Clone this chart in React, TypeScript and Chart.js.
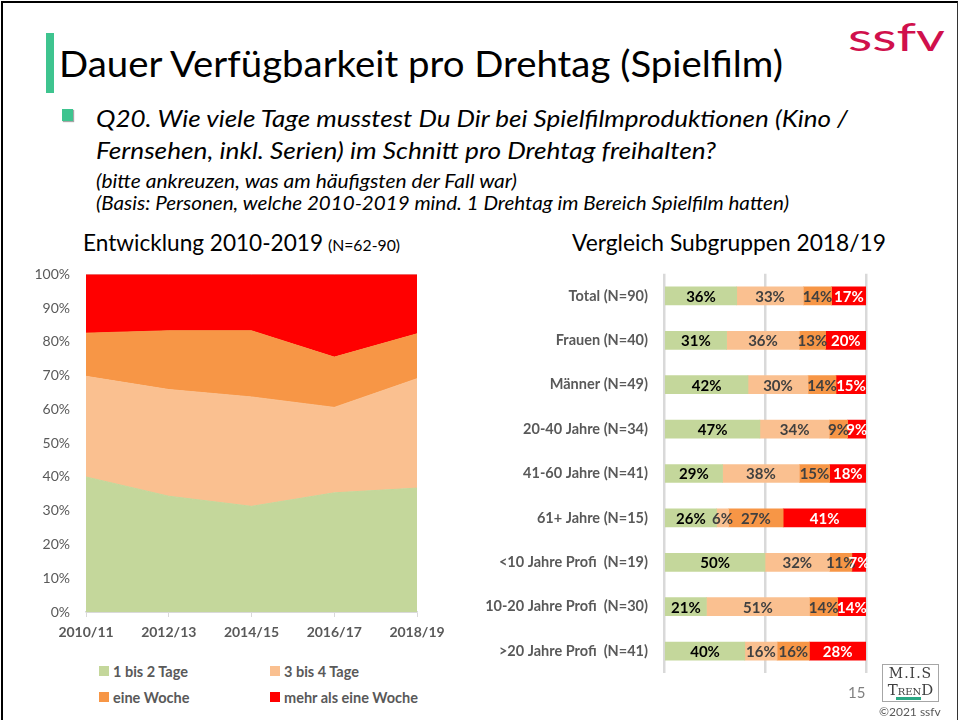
import React, { useEffect, useRef } from 'react';
import { Chart, registerables } from 'chart.js';

Chart.register(...registerables);

// ---------- data: left chart (100% stacked area) ----------
const periods = ['2010/11', '2012/13', '2014/15', '2016/17', '2018/19'];
const seriesNames = ['1 bis 2 Tage', '3 bis 4 Tage', 'eine Woche', 'mehr als eine Woche'];
const area1bis2 = [40, 34.3, 31.3, 35.3, 36.7];
const area3bis4 = [29.8, 31.6, 32.4, 25.3, 32.4];
const areaWoche = [12.8, 17.4, 19.6, 14.9, 13.3];
const areaMehr = [17.4, 16.7, 16.7, 24.5, 17.6];
const areaTicks = ['0%', '10%', '20%', '30%', '40%', '50%', '60%', '70%', '80%', '90%', '100%'];

// ---------- data: right chart (100% stacked bars) ----------
const groups = [
  'Total (N=90)',
  'Frauen (N=40)',
  'Männer (N=49)',
  '20-40 Jahre (N=34)',
  '41-60 Jahre (N=41)',
  '61+ Jahre (N=15)',
  '<10 Jahre Profi  (N=19)',
  '10-20 Jahre Profi  (N=30)',
  '>20 Jahre Profi  (N=41)',
];
const g1bis2 = [36, 31, 42, 47, 29, 26, 50, 21, 40];
const g3bis4 = [33, 36, 30, 34, 38, 6, 32, 51, 16];
const gWoche = [14, 13, 14, 9, 15, 27, 11, 14, 16];
const gMehr = [17, 20, 15, 9, 18, 41, 7, 14, 28];

// ---------- styles ----------
const seriesColors = ['#C4D79B', '#FAC090', '#F79646', '#FF0000'];
const labelColors = ['#000000', '#404040', '#404040', '#FFFFFF'];
const FONT = 'Lato, "Open Sans", sans-serif';

export default function App() {
  const leftRef = useRef<HTMLCanvasElement>(null);
  const rightRef = useRef<HTMLCanvasElement>(null);

  useEffect(() => {
    const areaSeries = [area1bis2, area3bis4, areaWoche, areaMehr];
    const left = new Chart(leftRef.current as HTMLCanvasElement, {
      type: 'line',
      data: {
        labels: periods,
        datasets: areaSeries.map((d, i) => ({
          label: seriesNames[i],
          data: d,
          backgroundColor: seriesColors[i],
          borderColor: seriesColors[i],
          borderWidth: 1,
          pointRadius: 0,
          pointHoverRadius: 0,
          tension: 0,
          fill: i === 0 ? 'origin' : '-1',
        })),
      },
      options: {
        animation: false,
        responsive: true,
        maintainAspectRatio: false,
        layout: { padding: { left: 0, right: 43, top: 0, bottom: 0 } },
        plugins: { legend: { display: false }, tooltip: { enabled: false } },
        scales: {
          x: {
            offset: false,
            grid: { drawOnChartArea: false, drawTicks: true, tickLength: 5, color: '#D9D9D9' },
            border: { display: true, color: '#D9D9D9', width: 1.5 },
            ticks: {
              font: { family: FONT, size: 14, weight: 'bold' },
              color: '#595959',
              padding: 7,
              maxRotation: 0,
              autoSkip: false,
            },
            afterFit: (s: any) => {
              s.height = 35;
            },
          },
          y: {
            stacked: true,
            min: 0,
            max: 100,
            ticks: {
              stepSize: 10,
              callback: (_v: any, i: number) => areaTicks[i],
              font: { family: FONT, size: 14 },
              color: '#595959',
              padding: 16,
            },
            grid: { color: '#D9D9D9', drawTicks: false },
            border: { display: false },
            afterFit: (s: any) => {
              s.width = 86;
            },
          },
        },
      } as any,
    });

    const barSeries = [g1bis2, g3bis4, gWoche, gMehr];
    const totals = groups.map((_, j) => barSeries.reduce((s, a) => s + a[j], 0));
    const labelPlugin = {
      id: 'segLabels',
      afterDatasetsDraw(chart: any) {
        const ctx = chart.ctx;
        ctx.save();
        ctx.font = `bold 15px ${FONT}`;
        ctx.textAlign = 'center';
        ctx.textBaseline = 'middle';
        barSeries.forEach((series, i) => {
          const meta = chart.getDatasetMeta(i);
          meta.data.forEach((el: any, j: number) => {
            const p = el.getProps(['x', 'base', 'y'], true);
            ctx.fillStyle = labelColors[i];
            ctx.fillText(series[j] + '%', (p.x + p.base) / 2, p.y + 1);
          });
        });
        ctx.restore();
      },
    };

    const right = new Chart(rightRef.current as HTMLCanvasElement, {
      type: 'bar',
      data: {
        labels: groups,
        datasets: barSeries.map((d, i) => ({
          label: seriesNames[i],
          data: d.map((v, j) => (v / totals[j]) * 100),
          backgroundColor: seriesColors[i],
          borderWidth: 0,
          barThickness: 18,
        })),
      },
      options: {
        indexAxis: 'y',
        animation: false,
        responsive: true,
        maintainAspectRatio: false,
        layout: { padding: { left: 0, right: 93, top: 0, bottom: 0 } },
        plugins: { legend: { display: false }, tooltip: { enabled: false } },
        scales: {
          x: {
            stacked: true,
            min: 0,
            max: 100,
            ticks: { display: false, stepSize: 50 },
            grid: { color: '#D9D9D9', lineWidth: 2.5, drawTicks: false },
            border: { display: false },
            afterFit: (s: any) => {
              s.height = 0;
            },
          },
          y: {
            stacked: true,
            ticks: {
              font: { family: FONT, size: 14.5, weight: 'bold' },
              color: '#595959',
              padding: 16,
              autoSkip: false,
            },
            grid: { display: false, drawTicks: false },
            border: { display: false },
            afterFit: (s: any) => {
              s.width = 194;
            },
          },
        },
      } as any,
      plugins: [labelPlugin],
    });

    return () => {
      left.destroy();
      right.destroy();
    };
  }, []);

  const legendPos = [
    { x: 99, y: 666 },
    { x: 270, y: 666 },
    { x: 99, y: 692 },
    { x: 270, y: 692 },
  ];

  return (
    <div
      style={{
        position: 'fixed',
        left: 0,
        top: 0,
        width: 959,
        height: 720,
        overflow: 'hidden',
        background: '#fff',
        fontFamily: FONT,
      }}
    >
      {/* slide border */}
      <div
        style={{
          position: 'absolute',
          left: 1,
          top: 1,
          width: 957,
          height: 760,
          boxSizing: 'border-box',
          borderLeft: '2.5px solid #000',
          borderTop: '2.5px solid #000',
          borderRight: '1.5px solid #333',
        }}
      />
      {/* title accent bar */}
      <div style={{ position: 'absolute', left: 46, top: 33, width: 8, height: 60, background: '#3EC48F' }} />
      {/* bullet */}
      <div
        style={{
          position: 'absolute',
          left: 62,
          top: 109,
          width: 11,
          height: 12,
          background: '#3EC48F',
          boxShadow: '1px 1px 1px rgba(0,0,0,0.35)',
        }}
      />
      <svg width={959} height={720} style={{ position: 'absolute', left: 0, top: 0 }}>
        <text x={59} y={77} fontFamily={FONT} fontSize={36} fill="#000" textLength={724} lengthAdjust="spacingAndGlyphs">
          Dauer Verfügbarkeit pro Drehtag (Spielfilm)
        </text>
        <text x={848} y={51} fontFamily={FONT} fontSize={38} fill="#D0104C" textLength={97} lengthAdjust="spacingAndGlyphs">
          ssfv
        </text>
        <text x={96} y={127} fontFamily={FONT} fontStyle="italic" fontSize={24} fill="#000" textLength={752} lengthAdjust="spacingAndGlyphs">
          Q20. Wie viele Tage musstest Du Dir bei Spielfilmproduktionen (Kino /
        </text>
        <text x={96} y={159} fontFamily={FONT} fontStyle="italic" fontSize={24} fill="#000" textLength={620} lengthAdjust="spacingAndGlyphs">
          Fernsehen, inkl. Serien) im Schnitt pro Drehtag freihalten?
        </text>
        <text x={96} y={188} fontFamily={FONT} fontStyle="italic" fontSize={19} fill="#000" textLength={421} lengthAdjust="spacingAndGlyphs">
          (bitte ankreuzen, was am häufigsten der Fall war)
        </text>
        <text x={96} y={210} fontFamily={FONT} fontStyle="italic" fontSize={19} fill="#000" textLength={693} lengthAdjust="spacingAndGlyphs">
          (Basis: Personen, welche 2010-2019 mind. 1 Drehtag im Bereich Spielfilm hatten)
        </text>
        <text x={83} y={251} fontFamily={FONT} fontSize={23} fill="#000" textLength={240} lengthAdjust="spacingAndGlyphs">
          Entwicklung 2010-2019
        </text>
        <text x={328} y={251} fontFamily={FONT} fontSize={15} fill="#000" textLength={72} lengthAdjust="spacingAndGlyphs">
          (N=62-90)
        </text>
        <text x={572} y={251} fontFamily={FONT} fontSize={23} fill="#000" textLength={314} lengthAdjust="spacingAndGlyphs">
          Vergleich Subgruppen 2018/19
        </text>
      </svg>

      {/* left chart */}
      <div style={{ position: 'absolute', left: 0, top: 250, width: 460, height: 397 }}>
        <canvas ref={leftRef} />
      </div>
      {/* left legend */}
      {seriesNames.map((n, i) => (
        <div
          key={n}
          style={{
            position: 'absolute',
            left: legendPos[i].x,
            top: legendPos[i].y - 3,
            height: 16,
            display: 'flex',
            alignItems: 'center',
            whiteSpace: 'nowrap',
          }}
        >
          <span style={{ display: 'inline-block', width: 10, height: 10, background: seriesColors[i], marginRight: 4 }} />
          <span style={{ fontFamily: FONT, fontSize: 14.5, fontWeight: 'bold', color: '#595959' }}>{n}</span>
        </div>
      ))}

      {/* right chart */}
      <div style={{ position: 'absolute', left: 470, top: 249, width: 489, height: 449 }}>
        <canvas ref={rightRef} />
      </div>

      {/* footer */}
      <div style={{ position: 'absolute', left: 848, top: 683, fontSize: 15, color: '#808080', lineHeight: '18px' }}>15</div>
      <div
        style={{
          position: 'absolute',
          left: 882,
          top: 664,
          width: 57,
          height: 38,
          boxSizing: 'border-box',
          border: '1px solid #A6A6A6',
          fontFamily: '"DejaVu Serif", "Liberation Serif", serif',
          color: '#404040',
          textAlign: 'center',
        }}
      >
        <div style={{ fontSize: 14, lineHeight: '17px', letterSpacing: 1 }}>M.I.S</div>
        <div style={{ lineHeight: '15px' }}>
          <span style={{ fontSize: 15 }}>T</span>
          <span style={{ fontSize: 10 }}>REN</span>
          <span style={{ fontSize: 15 }}>D</span>
        </div>
      </div>
      <div style={{ position: 'absolute', left: 896, top: 697, width: 25, height: 3, background: '#2BA884' }} />
      <div style={{ position: 'absolute', left: 879, top: 705, fontSize: 12, color: '#595959', lineHeight: '14px' }}>
        ©2021 ssfv
      </div>
    </div>
  );
}
